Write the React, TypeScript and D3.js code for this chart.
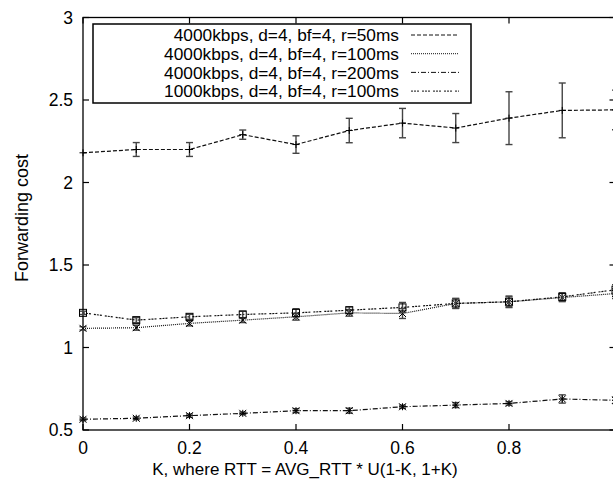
import { useEffect, useRef } from 'react';
import * as d3 from 'd3';

const W = 613;
const H = 488;
// plot box (right edge falls just outside the picture)
const [left, top, right, bottom] = [83, 17.5, 615.5, 430];

const kValues = [0, 0.1, 0.2, 0.3, 0.4, 0.5, 0.6, 0.7, 0.8, 0.9, 1.0];
const xTicks = [0, 0.2, 0.4, 0.6, 0.8, 1];
const yTicks = [0.5, 1, 1.5, 2, 2.5, 3];

const seriesNames = [
    '4000kbps, d=4, bf=4, r=50ms',
    '4000kbps, d=4, bf=4, r=100ms',
    '4000kbps, d=4, bf=4, r=200ms',
    '1000kbps, d=4, bf=4, r=100ms',
];

const r50 = [2.18, 2.2, 2.2, 2.29, 2.23, 2.315, 2.36, 2.33, 2.39, 2.437, 2.44];
const r50Err = [0, 0.042, 0.042, 0.028, 0.053, 0.074, 0.089, 0.088, 0.16, 0.166, 0.12];
const r100 = [1.116, 1.12, 1.146, 1.166, 1.186, 1.21, 1.206, 1.267, 1.277, 1.303, 1.327];
const r100Err = [0.01, 0.015, 0.015, 0.015, 0.02, 0.02, 0.03, 0.03, 0.03, 0.025, 0.03];
const r200 = [0.565, 0.571, 0.587, 0.601, 0.617, 0.617, 0.641, 0.651, 0.661, 0.688, 0.68];
const r200Err = [0.008, 0.008, 0.01, 0.008, 0.012, 0.015, 0.01, 0.015, 0.01, 0.025, 0.02];
const k1000 = [1.21, 1.166, 1.186, 1.2, 1.21, 1.226, 1.243, 1.267, 1.277, 1.307, 1.35];
const k1000Err = [0.01, 0.015, 0.015, 0.02, 0.025, 0.02, 0.03, 0.03, 0.035, 0.025, 0.03];

const dashes = ['4,2', '1,1', '5,2,1,2', '2,1,2,1,2,3'];
const markers = ['plus', 'cross', 'star', 'square'];

export default function App() {
    const ref = useRef<SVGSVGElement>(null);

    useEffect(() => {
        const svg = d3.select(ref.current);
        svg.selectAll('*').remove();
        const font = '"Liberation Sans", Arial, sans-serif';

        const x = d3.scaleLinear().domain([0, 1]).range([left, right]);
        const y = d3.scaleLinear().domain([0.5, 3]).range([bottom, top]);

        const data = [
            { vals: r50, err: r50Err },
            { vals: r100, err: r100Err },
            { vals: r200, err: r200Err },
            { vals: k1000, err: k1000Err },
        ];

        // frame
        svg.append('rect')
            .attr('x', left).attr('y', top)
            .attr('width', right - left).attr('height', bottom - top)
            .attr('fill', 'none').attr('stroke', '#000').attr('stroke-width', 1.3);

        // ticks: all inward, mirrored
        const tl = 6;
        const g = svg.append('g').attr('stroke', '#000').attr('stroke-width', 1.2);
        yTicks.forEach((t) => {
            g.append('line').attr('x1', left).attr('x2', left + tl).attr('y1', y(t)).attr('y2', y(t));
            g.append('line').attr('x1', right).attr('x2', right - tl).attr('y1', y(t)).attr('y2', y(t));
        });
        xTicks.forEach((t) => {
            g.append('line').attr('x1', x(t)).attr('x2', x(t)).attr('y1', bottom).attr('y2', bottom - tl);
            g.append('line').attr('x1', x(t)).attr('x2', x(t)).attr('y1', top).attr('y2', top + tl);
        });

        svg.append('g')
            .selectAll('text')
            .data(yTicks)
            .join('text')
            .attr('x', left - 10)
            .attr('y', (d) => y(d))
            .attr('dy', '0.36em')
            .attr('text-anchor', 'end')
            .attr('font-family', font)
            .attr('font-size', 17.5)
            .text((d) => d3.format('~g')(d));

        // the label for 1 falls outside the picture, as in the original crop
        svg.append('g')
            .selectAll('text')
            .data(xTicks.filter((t) => x(t) < W - 10))
            .join('text')
            .attr('x', (d) => x(d))
            .attr('y', bottom + 24)
            .attr('text-anchor', 'middle')
            .attr('font-family', font)
            .attr('font-size', 17.5)
            .text((d) => d3.format('~g')(d));

        svg.append('text')
            .attr('x', 305).attr('y', 475)
            .attr('text-anchor', 'middle')
            .attr('font-family', font).attr('font-size', 17)
            .text('K, where RTT = AVG_RTT * U(1-K, 1+K)');

        svg.append('text')
            .attr('transform', 'translate(28,218) rotate(-90)')
            .attr('text-anchor', 'middle')
            .attr('font-family', font).attr('font-size', 18)
            .text('Forwarding cost');

        const drawMarker = (sel: any, type: string, cx: number, cy: number) => {
            const s = 3.5;
            const m = sel.append('g').attr('stroke', '#000').attr('stroke-width', 1).attr('fill', 'none');
            if (type === 'plus' || type === 'star') {
                m.append('line').attr('x1', cx - s).attr('x2', cx + s).attr('y1', cy).attr('y2', cy);
                m.append('line').attr('x1', cx).attr('x2', cx).attr('y1', cy - s).attr('y2', cy + s);
            }
            if (type === 'cross' || type === 'star') {
                m.append('line').attr('x1', cx - s).attr('x2', cx + s).attr('y1', cy - s).attr('y2', cy + s);
                m.append('line').attr('x1', cx - s).attr('x2', cx + s).attr('y1', cy + s).attr('y2', cy - s);
            }
            if (type === 'square') {
                m.append('rect').attr('x', cx - s).attr('y', cy - s).attr('width', 2 * s).attr('height', 2 * s);
            }
        };

        const plot = svg.append('g');
        const line = d3.line<number>().x((_d, i) => x(kValues[i])).y((d) => y(d));

        data.forEach((s, si) => {
            plot.append('path')
                .attr('d', line(s.vals))
                .attr('fill', 'none')
                .attr('stroke', '#111')
                .attr('stroke-width', 1.2)
                .attr('stroke-dasharray', dashes[si]);

            const cap = 3.5;
            s.vals.forEach((v, i) => {
                const cx = x(kValues[i]);
                const eb = plot.append('g').attr('stroke', '#444').attr('stroke-width', 1.4);
                if (s.err[i] > 0) {
                    eb.append('line').attr('x1', cx).attr('x2', cx).attr('y1', y(v - s.err[i])).attr('y2', y(v + s.err[i]));
                    eb.append('line').attr('x1', cx - cap).attr('x2', cx + cap).attr('y1', y(v - s.err[i])).attr('y2', y(v - s.err[i]));
                    eb.append('line').attr('x1', cx - cap).attr('x2', cx + cap).attr('y1', y(v + s.err[i])).attr('y2', y(v + s.err[i]));
                }
                drawMarker(plot, markers[si], cx, y(v));
            });
        });

        // legend
        const lg = svg.append('g');
        lg.append('rect')
            .attr('x', 93).attr('y', 24).attr('width', 378).attr('height', 79)
            .attr('fill', '#fff').attr('stroke', '#000').attr('stroke-width', 1.5);
        seriesNames.forEach((name, i) => {
            const ly = 35 + i * 18.7;
            lg.append('text')
                .attr('x', 399).attr('y', ly).attr('dy', '0.36em')
                .attr('text-anchor', 'end')
                .attr('font-family', font).attr('font-size', 17.3)
                .text(name);
            lg.append('line')
                .attr('x1', 411).attr('x2', 459).attr('y1', ly).attr('y2', ly)
                .attr('stroke', '#111').attr('stroke-width', 1)
                .attr('stroke-dasharray', dashes[i]);
        });
    }, []);

    return (
        <svg
            ref={ref}
            width={W}
            height={H}
            style={{ position: 'absolute', left: 0, top: 0, background: '#fff' }}
        />
    );
}
